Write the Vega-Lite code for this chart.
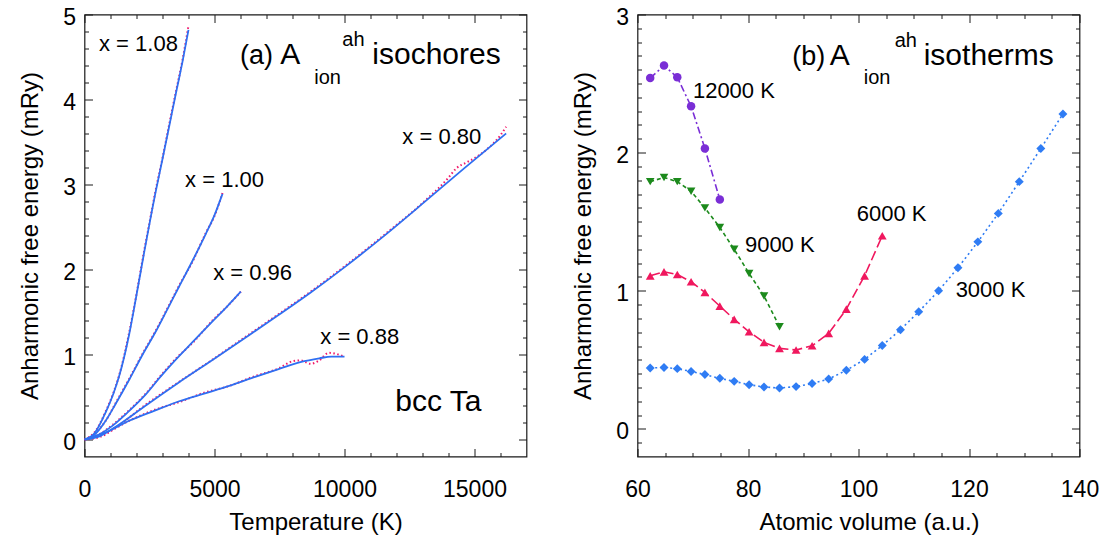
{
  "$schema": "https://vega.github.io/schema/vega-lite/v6.json",
  "background": "white",
  "padding": {"left": 17.5, "top": 5.5, "right": 0, "bottom": 0},
  "spacing": 111,
  "bounds": "flush",
  "config": {
    "view": {"stroke": "#1a1a1a", "strokeWidth": 1.2},
    "font": "Liberation Sans",
    "axis": {
      "grid": false, "domain": false,
      "labelFont": "Liberation Sans", "titleFont": "Liberation Sans",
      "labelFontSize": 23, "titleFontSize": 24, "titleFontWeight": "normal",
      "labelColor": "#000", "titleColor": "#000",
      "tickColor": "#1a1a1a", "tickWidth": 1,
      "labelOverlap": false, "labelFlush": false
    },
    "text": {"font": "Liberation Sans", "color": "#000", "baseline": "alphabetic"}
  },
  "datasets": {
    "isochoreMD": [
      {"ratio": "1.08", "T": 0, "A": 0}, {"ratio": "1.08", "T": 400, "A": 0.09}, {"ratio": "1.08", "T": 815, "A": 0.33}, {"ratio": "1.08", "T": 1100, "A": 0.54}, {"ratio": "1.08", "T": 1328, "A": 0.75}, {"ratio": "1.08", "T": 1713, "A": 1.25}, {"ratio": "1.08", "T": 2000, "A": 1.71}, {"ratio": "1.08", "T": 2300, "A": 2.23}, {"ratio": "1.08", "T": 2549, "A": 2.63}, {"ratio": "1.08", "T": 2715, "A": 2.9}, {"ratio": "1.08", "T": 3000, "A": 3.31}, {"ratio": "1.08", "T": 3254, "A": 3.7}, {"ratio": "1.08", "T": 3500, "A": 4.07}, {"ratio": "1.08", "T": 3766, "A": 4.46}, {"ratio": "1.08", "T": 4000, "A": 4.87},
      {"ratio": "1.00", "T": 0, "A": 0}, {"ratio": "1.00", "T": 400, "A": 0.07}, {"ratio": "1.00", "T": 815, "A": 0.22}, {"ratio": "1.00", "T": 1200, "A": 0.43}, {"ratio": "1.00", "T": 1713, "A": 0.71}, {"ratio": "1.00", "T": 2200, "A": 0.99}, {"ratio": "1.00", "T": 2741, "A": 1.28}, {"ratio": "1.00", "T": 3200, "A": 1.55}, {"ratio": "1.00", "T": 3639, "A": 1.81}, {"ratio": "1.00", "T": 4150, "A": 2.09}, {"ratio": "1.00", "T": 4666, "A": 2.43}, {"ratio": "1.00", "T": 5000, "A": 2.63}, {"ratio": "1.00", "T": 5307, "A": 2.9},
      {"ratio": "0.96", "T": 0, "A": 0}, {"ratio": "0.96", "T": 500, "A": 0.05}, {"ratio": "0.96", "T": 1071, "A": 0.17}, {"ratio": "0.96", "T": 1700, "A": 0.34}, {"ratio": "0.96", "T": 2356, "A": 0.54}, {"ratio": "0.96", "T": 2900, "A": 0.74}, {"ratio": "0.96", "T": 3510, "A": 0.95}, {"ratio": "0.96", "T": 4200, "A": 1.15}, {"ratio": "0.96", "T": 4922, "A": 1.4}, {"ratio": "0.96", "T": 5500, "A": 1.57}, {"ratio": "0.96", "T": 6014, "A": 1.74},
      {"ratio": "0.88", "T": 0, "A": 0}, {"ratio": "0.88", "T": 800, "A": 0.07}, {"ratio": "0.88", "T": 1713, "A": 0.22}, {"ratio": "0.88", "T": 2700, "A": 0.35}, {"ratio": "0.88", "T": 3639, "A": 0.44}, {"ratio": "0.88", "T": 4600, "A": 0.55}, {"ratio": "0.88", "T": 5564, "A": 0.63}, {"ratio": "0.88", "T": 6500, "A": 0.74}, {"ratio": "0.88", "T": 7489, "A": 0.84}, {"ratio": "0.88", "T": 8000, "A": 0.92}, {"ratio": "0.88", "T": 8300, "A": 0.93}, {"ratio": "0.88", "T": 8700, "A": 0.89}, {"ratio": "0.88", "T": 9029, "A": 0.93}, {"ratio": "0.88", "T": 9400, "A": 1.02}, {"ratio": "0.88", "T": 10000, "A": 0.975},
      {"ratio": "0.80", "T": 0, "A": 0}, {"ratio": "0.80", "T": 600, "A": 0.03}, {"ratio": "0.80", "T": 1200, "A": 0.14}, {"ratio": "0.80", "T": 2356, "A": 0.41}, {"ratio": "0.80", "T": 3600, "A": 0.67}, {"ratio": "0.80", "T": 4922, "A": 0.94}, {"ratio": "0.80", "T": 6200, "A": 1.21}, {"ratio": "0.80", "T": 7489, "A": 1.48}, {"ratio": "0.80", "T": 8700, "A": 1.74}, {"ratio": "0.80", "T": 10058, "A": 2.05}, {"ratio": "0.80", "T": 11500, "A": 2.4}, {"ratio": "0.80", "T": 13138, "A": 2.82}, {"ratio": "0.80", "T": 14000, "A": 3.08}, {"ratio": "0.80", "T": 14300, "A": 3.19}, {"ratio": "0.80", "T": 14700, "A": 3.26}, {"ratio": "0.80", "T": 15000, "A": 3.31}, {"ratio": "0.80", "T": 15500, "A": 3.42}, {"ratio": "0.80", "T": 16000, "A": 3.58}, {"ratio": "0.80", "T": 16218, "A": 3.68}
    ],
    "isochoreFit": [
      {"ratio": "1.08", "T": 0, "A": 0}, {"ratio": "1.08", "T": 400, "A": 0.08}, {"ratio": "1.08", "T": 815, "A": 0.32}, {"ratio": "1.08", "T": 1100, "A": 0.53}, {"ratio": "1.08", "T": 1328, "A": 0.74}, {"ratio": "1.08", "T": 1713, "A": 1.23}, {"ratio": "1.08", "T": 2000, "A": 1.7}, {"ratio": "1.08", "T": 2300, "A": 2.21}, {"ratio": "1.08", "T": 2549, "A": 2.62}, {"ratio": "1.08", "T": 2715, "A": 2.88}, {"ratio": "1.08", "T": 3000, "A": 3.3}, {"ratio": "1.08", "T": 3254, "A": 3.68}, {"ratio": "1.08", "T": 3500, "A": 4.05}, {"ratio": "1.08", "T": 3766, "A": 4.44}, {"ratio": "1.08", "T": 4000, "A": 4.82},
      {"ratio": "1.00", "T": 0, "A": 0}, {"ratio": "1.00", "T": 400, "A": 0.06}, {"ratio": "1.00", "T": 815, "A": 0.22}, {"ratio": "1.00", "T": 1200, "A": 0.42}, {"ratio": "1.00", "T": 1713, "A": 0.7}, {"ratio": "1.00", "T": 2200, "A": 0.98}, {"ratio": "1.00", "T": 2741, "A": 1.27}, {"ratio": "1.00", "T": 3200, "A": 1.54}, {"ratio": "1.00", "T": 3639, "A": 1.8}, {"ratio": "1.00", "T": 4150, "A": 2.1}, {"ratio": "1.00", "T": 4666, "A": 2.42}, {"ratio": "1.00", "T": 5000, "A": 2.64}, {"ratio": "1.00", "T": 5307, "A": 2.89},
      {"ratio": "0.96", "T": 0, "A": 0}, {"ratio": "0.96", "T": 500, "A": 0.05}, {"ratio": "0.96", "T": 1071, "A": 0.16}, {"ratio": "0.96", "T": 1700, "A": 0.33}, {"ratio": "0.96", "T": 2356, "A": 0.53}, {"ratio": "0.96", "T": 2900, "A": 0.73}, {"ratio": "0.96", "T": 3510, "A": 0.94}, {"ratio": "0.96", "T": 4200, "A": 1.16}, {"ratio": "0.96", "T": 4922, "A": 1.39}, {"ratio": "0.96", "T": 5500, "A": 1.57}, {"ratio": "0.96", "T": 6014, "A": 1.74},
      {"ratio": "0.88", "T": 0, "A": 0}, {"ratio": "0.88", "T": 800, "A": 0.08}, {"ratio": "0.88", "T": 1713, "A": 0.22}, {"ratio": "0.88", "T": 2700, "A": 0.34}, {"ratio": "0.88", "T": 3639, "A": 0.45}, {"ratio": "0.88", "T": 4600, "A": 0.54}, {"ratio": "0.88", "T": 5564, "A": 0.63}, {"ratio": "0.88", "T": 6500, "A": 0.73}, {"ratio": "0.88", "T": 7489, "A": 0.83}, {"ratio": "0.88", "T": 8300, "A": 0.91}, {"ratio": "0.88", "T": 9029, "A": 0.955}, {"ratio": "0.88", "T": 9500, "A": 0.975}, {"ratio": "0.88", "T": 10000, "A": 0.975},
      {"ratio": "0.80", "T": 0, "A": 0}, {"ratio": "0.80", "T": 600, "A": 0.04}, {"ratio": "0.80", "T": 1200, "A": 0.15}, {"ratio": "0.80", "T": 2356, "A": 0.4}, {"ratio": "0.80", "T": 3600, "A": 0.665}, {"ratio": "0.80", "T": 4922, "A": 0.935}, {"ratio": "0.80", "T": 6200, "A": 1.2}, {"ratio": "0.80", "T": 7489, "A": 1.47}, {"ratio": "0.80", "T": 8700, "A": 1.73}, {"ratio": "0.80", "T": 10058, "A": 2.04}, {"ratio": "0.80", "T": 11500, "A": 2.39}, {"ratio": "0.80", "T": 13138, "A": 2.81}, {"ratio": "0.80", "T": 14600, "A": 3.19}, {"ratio": "0.80", "T": 16218, "A": 3.6}
    ],
    "isotherms": [
      {"temp": "12000 K", "V": 62.3, "A": 2.54}, {"temp": "12000 K", "V": 64.8, "A": 2.63}, {"temp": "12000 K", "V": 67.2, "A": 2.545}, {"temp": "12000 K", "V": 69.7, "A": 2.335}, {"temp": "12000 K", "V": 72.2, "A": 2.03}, {"temp": "12000 K", "V": 74.9, "A": 1.66},
      {"temp": "9000 K", "V": 62.3, "A": 1.79}, {"temp": "9000 K", "V": 64.8, "A": 1.82}, {"temp": "9000 K", "V": 67.2, "A": 1.79}, {"temp": "9000 K", "V": 69.7, "A": 1.72}, {"temp": "9000 K", "V": 72.2, "A": 1.6}, {"temp": "9000 K", "V": 74.9, "A": 1.458}, {"temp": "9000 K", "V": 77.5, "A": 1.3}, {"temp": "9000 K", "V": 80.2, "A": 1.125}, {"temp": "9000 K", "V": 82.9, "A": 0.962}, {"temp": "9000 K", "V": 85.7, "A": 0.74},
      {"temp": "6000 K", "V": 62.3, "A": 1.108}, {"temp": "6000 K", "V": 64.8, "A": 1.137}, {"temp": "6000 K", "V": 67.2, "A": 1.118}, {"temp": "6000 K", "V": 69.7, "A": 1.065}, {"temp": "6000 K", "V": 72.2, "A": 0.988}, {"temp": "6000 K", "V": 74.9, "A": 0.889}, {"temp": "6000 K", "V": 77.5, "A": 0.793}, {"temp": "6000 K", "V": 80.2, "A": 0.703}, {"temp": "6000 K", "V": 82.9, "A": 0.626}, {"temp": "6000 K", "V": 85.7, "A": 0.583}, {"temp": "6000 K", "V": 88.7, "A": 0.571}, {"temp": "6000 K", "V": 91.6, "A": 0.602}, {"temp": "6000 K", "V": 94.6, "A": 0.691}, {"temp": "6000 K", "V": 97.8, "A": 0.867}, {"temp": "6000 K", "V": 101.1, "A": 1.108}, {"temp": "6000 K", "V": 104.3, "A": 1.398},
      {"temp": "3000 K", "V": 62.3, "A": 0.441}, {"temp": "3000 K", "V": 64.8, "A": 0.445}, {"temp": "3000 K", "V": 67.2, "A": 0.436}, {"temp": "3000 K", "V": 69.7, "A": 0.416}, {"temp": "3000 K", "V": 72.2, "A": 0.393}, {"temp": "3000 K", "V": 74.9, "A": 0.366}, {"temp": "3000 K", "V": 77.5, "A": 0.344}, {"temp": "3000 K", "V": 80.2, "A": 0.32}, {"temp": "3000 K", "V": 82.9, "A": 0.303}, {"temp": "3000 K", "V": 85.7, "A": 0.296}, {"temp": "3000 K", "V": 88.7, "A": 0.306}, {"temp": "3000 K", "V": 91.6, "A": 0.328}, {"temp": "3000 K", "V": 94.6, "A": 0.361}, {"temp": "3000 K", "V": 97.8, "A": 0.424}, {"temp": "3000 K", "V": 101.1, "A": 0.503}, {"temp": "3000 K", "V": 104.3, "A": 0.604}, {"temp": "3000 K", "V": 107.6, "A": 0.718}, {"temp": "3000 K", "V": 110.9, "A": 0.848}, {"temp": "3000 K", "V": 114.5, "A": 1.0}, {"temp": "3000 K", "V": 118.0, "A": 1.166}, {"temp": "3000 K", "V": 121.6, "A": 1.354}, {"temp": "3000 K", "V": 125.3, "A": 1.56}, {"temp": "3000 K", "V": 129.1, "A": 1.79}, {"temp": "3000 K", "V": 133.0, "A": 2.03}, {"temp": "3000 K", "V": 137.0, "A": 2.28}
    ]
  },
  "hconcat": [
    {
      "width": 442,
      "height": 442,
      "layer": [
        {
          "data": {"name": "isochoreMD"},
          "mark": {"type": "line", "color": "#f2196b", "strokeWidth": 2, "strokeDash": [1.5, 2.5], "interpolate": "monotone", "clip": true},
          "encoding": {
            "x": {
              "field": "T", "type": "quantitative",
              "scale": {"domain": [0, 17000], "nice": false, "zero": false},
              "axis": {
                "orient": "bottom", "values": [0, 5000, 10000, 15000], "format": "d",
                "tickSize": -8, "labelPadding": 30,
                "title": "Temperature (K)", "titleX": 231, "titleY": 73, "titleBaseline": "alphabetic"
              }
            },
            "y": {
              "field": "A", "type": "quantitative",
              "scale": {"domain": [-0.2, 5], "nice": false, "zero": false},
              "axis": {
                "orient": "left", "values": [0, 1, 2, 3, 4, 5], "format": "d",
                "tickSize": -8, "labelPadding": 17, "labelOffset": 3,
                "title": "Anharmonic free energy (mRy)", "titleX": -47, "titleBaseline": "alphabetic"
              }
            },
            "detail": {"field": "ratio"}
          }
        },
        {
          "data": {"name": "isochoreFit"},
          "mark": {"type": "line", "color": "#2f6ff2", "strokeWidth": 1.8, "interpolate": "monotone", "clip": true},
          "encoding": {
            "x": {
              "field": "T", "type": "quantitative",
              "axis": {"orient": "top", "labels": false, "title": null, "values": [0, 5000, 10000, 15000], "tickSize": -8}
            },
            "y": {
              "field": "A", "type": "quantitative",
              "axis": {"orient": "right", "labels": false, "title": null, "values": [0, 1, 2, 3, 4, 5], "tickSize": -8}
            },
            "detail": {"field": "ratio"}
          }
        },
        {
          "data": {"values": [
            {"label": "x = 1.08", "T": 558, "A": 4.565},
            {"label": "x = 1.00", "T": 3870, "A": 2.976},
            {"label": "x = 0.96", "T": 4948, "A": 1.871},
            {"label": "x = 0.80", "T": 12225, "A": 3.482},
            {"label": "x = 0.88", "T": 9068, "A": 1.118}
          ]},
          "mark": {"type": "text", "fontSize": 22, "align": "left"},
          "encoding": {
            "x": {
              "field": "T", "type": "quantitative",
              "axis": {"orient": "bottom", "labels": false, "title": null, "tickSize": -4,
                "values": [1000, 2000, 3000, 4000, 6000, 7000, 8000, 9000, 11000, 12000, 13000, 14000, 16000]}
            },
            "y": {
              "field": "A", "type": "quantitative",
              "axis": {"orient": "left", "labels": false, "title": null, "tickSize": -4,
                "values": [0.2, 0.4, 0.6, 0.8, 1.2, 1.4, 1.6, 1.8, 2.2, 2.4, 2.6, 2.8, 3.2, 3.4, 3.6, 3.8, 4.2, 4.4, 4.6, 4.8]}
            },
            "text": {"field": "label"}
          }
        },
        {
          "data": {"values": [
            {"label": "A", "T": 7528, "A": 4.412},
            {"label": "isochores", "T": 11070, "A": 4.412},
            {"label": "bcc Ta", "T": 11956, "A": 0.341}
          ]},
          "mark": {"type": "text", "fontSize": 30, "align": "left"},
          "encoding": {
            "x": {
              "field": "T", "type": "quantitative",
              "axis": {"orient": "top", "labels": false, "title": null, "tickSize": -4,
                "values": [1000, 2000, 3000, 4000, 6000, 7000, 8000, 9000, 11000, 12000, 13000, 14000, 16000]}
            },
            "y": {
              "field": "A", "type": "quantitative",
              "axis": {"orient": "right", "labels": false, "title": null, "tickSize": -4,
                "values": [0.2, 0.4, 0.6, 0.8, 1.2, 1.4, 1.6, 1.8, 2.2, 2.4, 2.6, 2.8, 3.2, 3.4, 3.6, 3.8, 4.2, 4.4, 4.6, 4.8]}
            },
            "text": {"field": "label"}
          }
        },
        {
          "data": {"values": [{"label": "(a)", "T": 7250, "A": 4.412}]},
          "mark": {"type": "text", "fontSize": 27, "align": "right"},
          "encoding": {
            "x": {"field": "T", "type": "quantitative", "axis": null},
            "y": {"field": "A", "type": "quantitative", "axis": null},
            "text": {"field": "label"}
          }
        },
        {
          "data": {"values": [
            {"label": "ion", "T": 8837, "A": 4.188},
            {"label": "ah", "T": 9915, "A": 4.624}
          ]},
          "mark": {"type": "text", "fontSize": 20, "align": "left"},
          "encoding": {
            "x": {"field": "T", "type": "quantitative", "axis": null},
            "y": {"field": "A", "type": "quantitative", "axis": null},
            "text": {"field": "label"}
          }
        }
      ],
      "resolve": {"axis": {"x": "independent", "y": "independent"}}
    },
    {
      "width": 442,
      "height": 442,
      "data": {"name": "isotherms"},
      "layer": [
        {
          "mark": {"type": "line", "strokeWidth": 1.6, "clip": true},
          "encoding": {
            "x": {
              "field": "V", "type": "quantitative",
              "scale": {"domain": [60, 140], "nice": false, "zero": false},
              "axis": {
                "orient": "bottom", "values": [60, 80, 100, 120, 140], "format": "d",
                "tickSize": -8, "labelPadding": 30,
                "title": "Atomic volume (a.u.)", "titleX": 231.5, "titleY": 73, "titleBaseline": "alphabetic"
              }
            },
            "y": {
              "field": "A", "type": "quantitative",
              "scale": {"domain": [-0.2, 3], "nice": false, "zero": false},
              "axis": {
                "orient": "left", "values": [0, 1, 2, 3], "format": "d",
                "tickSize": -8, "labelPadding": 17, "labelOffset": 3,
                "title": "Anharmonic free energy (mRy)", "titleX": -47, "titleBaseline": "alphabetic"
              }
            },
            "color": {
              "field": "temp", "type": "nominal", "legend": null,
              "scale": {"domain": ["12000 K", "9000 K", "6000 K", "3000 K"], "range": ["#7a2ed6", "#1c8a1c", "#f0185e", "#2f7cf4"]}
            },
            "strokeDash": {
              "field": "temp", "type": "nominal", "legend": null,
              "scale": {"domain": ["12000 K", "9000 K", "6000 K", "3000 K"], "range": [[7, 3, 2, 3], [4, 3], [10, 4], [2, 3]]}
            }
          }
        },
        {
          "mark": {"type": "point", "filled": true, "opacity": 1},
          "encoding": {
            "x": {
              "field": "V", "type": "quantitative",
              "axis": {"orient": "top", "labels": false, "title": null, "values": [60, 80, 100, 120, 140], "tickSize": -8}
            },
            "y": {
              "field": "A", "type": "quantitative",
              "axis": {"orient": "right", "labels": false, "title": null, "values": [0, 1, 2, 3], "tickSize": -8}
            },
            "color": {"field": "temp", "type": "nominal", "legend": null},
            "shape": {
              "field": "temp", "type": "nominal", "legend": null,
              "scale": {"domain": ["12000 K", "9000 K", "6000 K", "3000 K"], "range": ["circle", "triangle-down", "triangle-up", "diamond"]}
            },
            "size": {
              "field": "temp", "type": "nominal", "legend": null,
              "scale": {"domain": ["12000 K", "9000 K", "6000 K", "3000 K"], "range": [72, 80, 80, 60]}
            }
          }
        },
        {
          "data": {"values": [
            {"label": "12000 K", "V": 70.03, "A": 2.398},
            {"label": "9000 K", "V": 79.44, "A": 1.284},
            {"label": "6000 K", "V": 99.69, "A": 1.507},
            {"label": "3000 K", "V": 117.58, "A": 0.952}
          ]},
          "mark": {"type": "text", "fontSize": 22, "align": "left"},
          "encoding": {
            "x": {
              "field": "V", "type": "quantitative",
              "axis": {"orient": "bottom", "labels": false, "title": null, "tickSize": -4,
                "values": [65, 70, 75, 85, 90, 95, 105, 110, 115, 125, 130, 135]}
            },
            "y": {
              "field": "A", "type": "quantitative",
              "axis": {"orient": "left", "labels": false, "title": null, "tickSize": -4,
                "values": [-0.1, 0.1, 0.2, 0.3, 0.4, 0.5, 0.6, 0.7, 0.8, 0.9, 1.1, 1.2, 1.3, 1.4, 1.5, 1.6, 1.7, 1.8, 1.9, 2.1, 2.2, 2.3, 2.4, 2.5, 2.6, 2.7, 2.8, 2.9]}
            },
            "text": {"field": "label"}
          }
        },
        {
          "data": {"values": [
            {"label": "A", "V": 94.8, "A": 2.636},
            {"label": "isotherms", "V": 111.8, "A": 2.636}
          ]},
          "mark": {"type": "text", "fontSize": 30, "align": "left"},
          "encoding": {
            "x": {
              "field": "V", "type": "quantitative",
              "axis": {"orient": "top", "labels": false, "title": null, "tickSize": -4,
                "values": [65, 70, 75, 85, 90, 95, 105, 110, 115, 125, 130, 135]}
            },
            "y": {
              "field": "A", "type": "quantitative",
              "axis": {"orient": "right", "labels": false, "title": null, "tickSize": -4,
                "values": [-0.1, 0.1, 0.2, 0.3, 0.4, 0.5, 0.6, 0.7, 0.8, 0.9, 1.1, 1.2, 1.3, 1.4, 1.5, 1.6, 1.7, 1.8, 1.9, 2.1, 2.2, 2.3, 2.4, 2.5, 2.6, 2.7, 2.8, 2.9]}
            },
            "text": {"field": "label"}
          }
        },
        {
          "data": {"values": [{"label": "(b)", "V": 94.0, "A": 2.636}]},
          "mark": {"type": "text", "fontSize": 27, "align": "right"},
          "encoding": {
            "x": {"field": "V", "type": "quantitative", "axis": null},
            "y": {"field": "A", "type": "quantitative", "axis": null},
            "text": {"field": "label"}
          }
        },
        {
          "data": {"values": [
            {"label": "ion", "V": 100.95, "A": 2.499},
            {"label": "ah", "V": 106.55, "A": 2.766}
          ]},
          "mark": {"type": "text", "fontSize": 20, "align": "left"},
          "encoding": {
            "x": {"field": "V", "type": "quantitative", "axis": null},
            "y": {"field": "A", "type": "quantitative", "axis": null},
            "text": {"field": "label"}
          }
        }
      ],
      "resolve": {"axis": {"x": "independent", "y": "independent"}}
    }
  ]
}
